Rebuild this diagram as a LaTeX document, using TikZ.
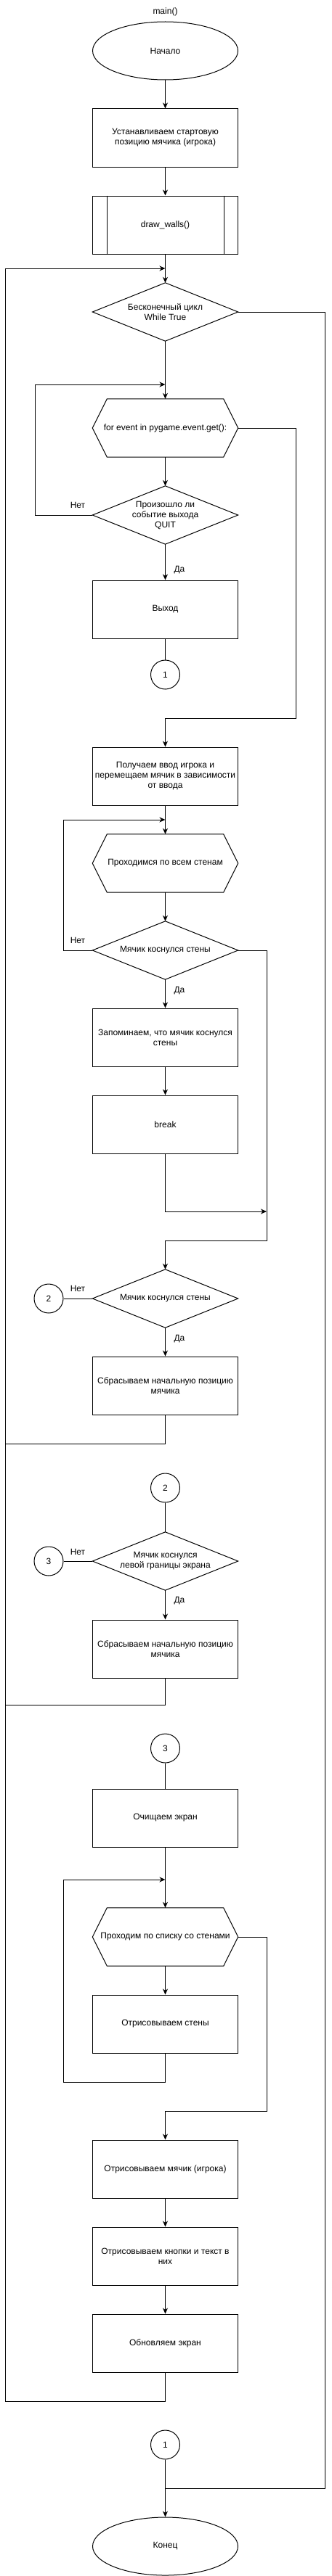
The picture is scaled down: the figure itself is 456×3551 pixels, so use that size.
\documentclass[tikz,border=0pt]{standalone}
\usepackage{fontspec}
\setmainfont{Liberation Sans}
\usetikzlibrary{arrows.meta,shapes.geometric}
\newcommand{\dmdoutline}[1]{\draw[outline] (#1.west) -- (#1.north) -- (#1.east) -- (#1.south) -- cycle;}
\newcommand{\hexoutline}[1]{\draw[outline] (#1.west) -- ([xshift=20pt]#1.north west) -- ([xshift=-20pt]#1.north east) -- (#1.east) -- ([xshift=-20pt]#1.south east) -- ([xshift=20pt]#1.south west) -- cycle;}
\begin{document}
\begin{tikzpicture}[x=1pt,y=-1pt,
  every node/.style={font=\fontsize{12}{14}\selectfont},
  box/.style={draw, rectangle, minimum width=200pt, minimum height=80pt, inner sep=0pt, align=center, line width=1pt},
  shapebox/.style={rectangle, minimum width=200pt, minimum height=80pt, inner sep=0pt, align=center},
  term/.style={draw, ellipse, minimum width=200pt, minimum height=80pt, inner sep=0pt, line width=1pt},
  conn/.style={draw, circle, minimum size=40pt, inner sep=0pt, line width=1pt},
  flow/.style={line width=1pt},
  arr/.style={flow, -{Stealth[length=8pt,width=7pt,inset=2.5pt]}},
  lbl/.style={inner sep=0pt},
  outline/.style={line width=1pt, line join=miter}]
\useasboundingbox[fill=white] (0,0) rectangle (456,3551);

% nodes
\node[lbl] (title) at (227.5,16) {main()};
\node[term] (start) at (227.5,70) {Начало};
\node[box] (b1) at (227.5,190) {Устанавливаем стартовую\\позицию мячика (игрока)};
\node[box] (dw) at (227.5,310) {draw\_walls()};
\draw[outline] ([xshift=20pt]dw.north west) -- ([xshift=20pt]dw.south west);
\draw[outline] ([xshift=-20pt]dw.north east) -- ([xshift=-20pt]dw.south east);
\node[shapebox] (d1) at (227.5,430) {Бесконечный цикл\\While True};
\dmdoutline{d1}
\node[shapebox] (h1) at (227.5,590) {for event in pygame.event.get():};
\hexoutline{h1}
\node[shapebox] (d2) at (227.5,710) {Произошло ли\\событие выхода\\QUIT};
\dmdoutline{d2}
\node[box] (ex) at (227.5,840) {Выход};
\node[conn] (c1a) at (227.5,930) {1};
\node[box] (b2) at (227.5,1070) {Получаем ввод игрока и\\перемещаем мячик в зависимости\\от ввода};
\node[shapebox] (h2) at (227.5,1190) {Проходимся по всем стенам};
\hexoutline{h2}
\node[shapebox] (d3) at (227.5,1310) {Мячик коснулся стены};
\dmdoutline{d3}
\node[box] (b3) at (227.5,1430) {Запоминаем, что мячик коснулся\\стены};
\node[box] (brk) at (227.5,1550) {break};
\node[shapebox] (d4) at (227.5,1790) {Мячик коснулся стены};
\dmdoutline{d4}
\node[conn] (c2a) at (67,1790) {2};
\node[box] (b4) at (227.5,1910) {Сбрасываем начальную позицию\\мячика};
\node[conn] (c2b) at (227.5,2051) {2};
\node[shapebox] (d5) at (227.5,2152) {Мячик коснулся\\левой границы экрана};
\dmdoutline{d5}
\node[conn] (c3a) at (67,2152) {3};
\node[box] (b5) at (227.5,2273) {Сбрасываем начальную позицию\\мячика};
\node[conn] (c3b) at (227.5,2410) {3};
\node[box] (b6) at (227.5,2506) {Очищаем экран};
\node[shapebox] (h3) at (227.5,2670) {Проходим по списку со стенами};
\hexoutline{h3}
\node[box] (b7) at (227.5,2790) {Отрисовываем стены};
\node[box] (b8) at (227.5,2990) {Отрисовываем мячик (игрока)};
\node[box] (b9) at (227.5,3110) {Отрисовываем кнопки и текст в\\них};
\node[box] (b10) at (227.5,3230) {Обновляем экран};
\node[conn] (c1b) at (227.5,3370) {1};
\node[term] (fin) at (227.5,3510) {Конец};

% labels
\node[lbl] (n1) at (107,696) {Нет};
\node[lbl] (y1) at (247,786) {Да};
\node[lbl] (n2) at (107,1296) {Нет};
\node[lbl] (y2) at (247,1366) {Да};
\node[lbl] (n3) at (107,1776) {Нет};
\node[lbl] (y3) at (247,1846) {Да};
\node[lbl] (n4) at (107,2139) {Нет};
\node[lbl] (y4) at (247,2207) {Да};

% coordinates
\coordinate (jA) at (227.5,370);
\coordinate (kA) at (7,3310);
\coordinate (jB) at (227.5,530);
\coordinate (kB) at (48,530);
\coordinate (kE) at (447,3430);
\coordinate (jE) at (227.5,3430);
\coordinate (kF) at (407,990);
\coordinate (jF) at (227.5,990);
\coordinate (jC) at (227.5,1130);
\coordinate (kC) at (87,1130);
\coordinate (kG) at (367,1670);
\coordinate (kH) at (367,1710);
\coordinate (jH) at (227.5,1710);
\coordinate (kI) at (7,1990);
\coordinate (kJ) at (7,2350);
\coordinate (jD) at (227.5,2591);
\coordinate (kD) at (87,2870);
\coordinate (kK) at (367,2910);
\coordinate (jK) at (227.5,2910);

% connectors
\draw[arr] (start) -- (b1);
\draw[arr] (b1) -- (dw);
\draw[arr] (dw.south) -- (d1.north);
\draw[arr] (b10.south) |- (kA) |- (jA);
\draw[flow] (d1.east) -| (kE) -- (jE);
\draw[arr] (d1.south) -- (h1.north);
\draw[arr] (h1.south) -- (d2.north);
\draw[arr] (d2.west) -| (kB) -- (jB);
\draw[arr] (d2.south) -- (ex.north);
\draw[flow] (ex.south) -- (c1a.north);
\draw[arr] (h1.east) -| (kF) -- (jF) -- (b2.north);
\draw[arr] (b2.south) -- (h2.north);
\draw[arr] (h2.south) -- (d3.north);
\draw[arr] (d3.west) -| (kC) -- (jC);
\draw[arr] (d3.south) -- (b3.north);
\draw[arr] (b3.south) -- (brk.north);
\draw[arr] (brk.south) |- (kG);
\draw[arr] (d3.east) -| (kH) -- (jH) -- (d4.north);
\draw[flow] (c2a.east) -- (d4.west);
\draw[arr] (d4.south) -- (b4.north);
\draw[flow] (b4.south) |- (kI);
\draw[flow] (c2b.south) -- (d5.north);
\draw[flow] (c3a.east) -- (d5.west);
\draw[arr] (d5.south) -- (b5.north);
\draw[flow] (b5.south) |- (kJ);
\draw[flow] (c3b.south) -- (b6.north);
\draw[arr] (b6.south) -- (h3.north);
\draw[arr] (h3.south) -- (b7.north);
\draw[arr] (b7.south) |- (kD) |- (jD);
\draw[arr] (h3.east) -| (kK) -- (jK) -- (b8.north);
\draw[arr] (b8.south) -- (b9.north);
\draw[arr] (b9.south) -- (b10.north);
\draw[arr] (c1b.south) -- (fin.north);
\end{tikzpicture}
\end{document}
